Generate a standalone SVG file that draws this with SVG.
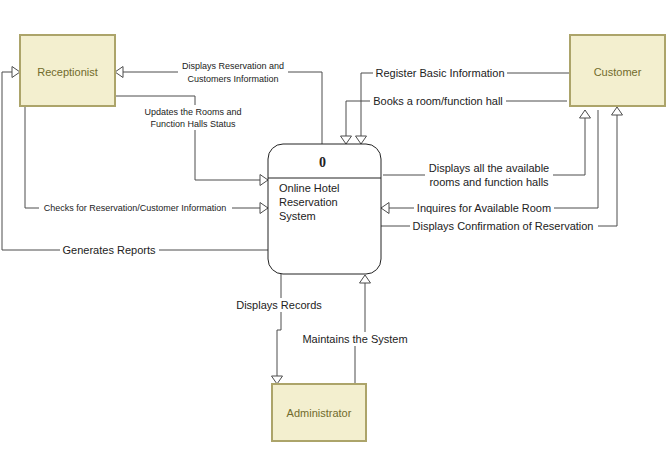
<svg xmlns="http://www.w3.org/2000/svg" width="666" height="451" viewBox="0 0 666 451">
<style>
.ent{fill:#f3efcf;stroke:#aca46a;stroke-width:2}
.entt{font-family:"Liberation Sans",Arial,sans-serif;font-size:11px;fill:#716b2c;text-anchor:middle;dominant-baseline:central}
.proc{fill:#fff;stroke:#222;stroke-width:1}
.c{fill:none;stroke:#4d4d4d;stroke-width:1}
.lb{fill:#fff}
.t{font-family:"Liberation Sans",Arial,sans-serif;font-size:11px;fill:#222;text-anchor:middle;dominant-baseline:central}
.s{font-size:9px}
</style>
<defs>
<marker id="a" markerUnits="userSpaceOnUse" markerWidth="12" markerHeight="14" refX="9" refY="6" orient="auto" viewBox="0 0 12 12">
<path d="M1,0.5 L9,6 L1,11.5 Z" fill="#fff" stroke="#4d4d4d" stroke-width="1"/>
</marker>
</defs>
<rect width="666" height="451" fill="#fff"/>
<g id="connectors">
<path class="c" d="M322,144 V72 H115" marker-end="url(#a)"/>
<path class="c" d="M115,96 H195 V180 H268" marker-end="url(#a)"/>
<path class="c" d="M25,106 V208 H268" marker-end="url(#a)"/>
<path class="c" d="M268,250 H2 V72 H20" marker-end="url(#a)"/>
<path class="c" d="M570,73 H361 V144" marker-end="url(#a)"/>
<path class="c" d="M567,101 H346 V144" marker-end="url(#a)"/>
<path class="c" d="M383,175 H585 V110" marker-end="url(#a)"/>
<path class="c" d="M598,110 V208 H381" marker-end="url(#a)"/>
<path class="c" d="M381,226 H617 V107" marker-end="url(#a)"/>
<path class="c" d="M281,274 V330 H277 V384" marker-end="url(#a)"/>
<path class="c" d="M355,384 V337 H365 V275" marker-end="url(#a)"/>
<rect class="lb" x="178" y="60" width="110" height="25"/>
<text class="t s" x="233" y="66">Displays Reservation and</text>
<text class="t s" x="233" y="79">Customers Information</text>
<rect class="lb" x="141" y="105" width="104" height="25"/>
<text class="t s" x="193" y="112">Updates the Rooms and</text>
<text class="t s" x="193" y="124">Function Halls Status</text>
<rect class="lb" x="39" y="202" width="193" height="12"/>
<text class="t s" x="135" y="208">Checks for Reservation/Customer Information</text>
<rect class="lb" x="60" y="243" width="99" height="14"/>
<text class="t" x="109" y="250">Generates Reports</text>
<rect class="lb" x="373" y="66" width="134" height="14"/>
<text class="t" x="440" y="73">Register Basic Information</text>
<rect class="lb" x="370" y="94" width="136" height="14"/>
<text class="t" x="438" y="101">Books a room/function hall</text>
<rect class="lb" x="425" y="161" width="128" height="28"/>
<text class="t" x="489" y="168">Displays all the available</text>
<text class="t" x="489" y="182">rooms and function halls</text>
<rect class="lb" x="414" y="201" width="140" height="14"/>
<text class="t" x="484" y="208">Inquires for Available Room</text>
<rect class="lb" x="410" y="219" width="188" height="14"/>
<text class="t" x="503" y="226">Displays Confirmation of Reservation</text>
<rect class="lb" x="234" y="298" width="90" height="14"/>
<text class="t" x="279" y="305">Displays Records</text>
<rect class="lb" x="300" y="332" width="110" height="14"/>
<text class="t" x="355" y="339">Maintains the System</text>
</g>
<g id="receptionist">
<rect class="ent" x="20" y="35" width="95" height="71"/>
<text class="entt" x="67.5" y="72">Receptionist</text>
</g>
<g id="customer">
<rect class="ent" x="570" y="35" width="95" height="71"/>
<text class="entt" x="617.5" y="72">Customer</text>
</g>
<g id="administrator">
<rect class="ent" x="272" y="384" width="94" height="57"/>
<text class="entt" x="319" y="413">Administrator</text>
</g>
<g id="process">
<rect class="proc" x="268" y="144" width="113" height="130" rx="15" ry="15"/>
<line x1="268" y1="178" x2="381" y2="178" stroke="#222" stroke-width="1"/>
<text x="322.5" y="162" font-family="'Liberation Serif',serif" font-weight="bold" font-size="14" fill="#222" text-anchor="middle" dominant-baseline="central">0</text>
<text class="t" x="279" y="188" style="text-anchor:start">Online Hotel</text>
<text class="t" x="279" y="202" style="text-anchor:start">Reservation</text>
<text class="t" x="279" y="216" style="text-anchor:start">System</text>
</g>
</svg>
